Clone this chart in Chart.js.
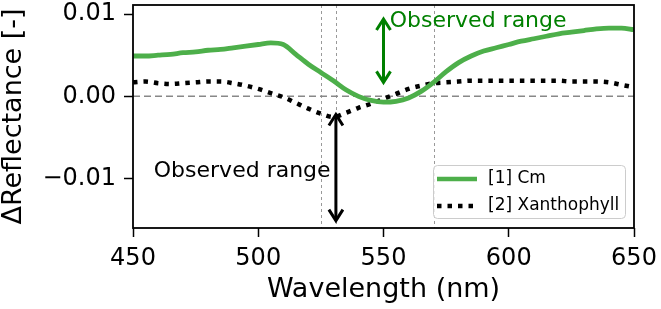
<!DOCTYPE html>
<html>
<head>
<meta charset="utf-8">
<script src="https://cdn.jsdelivr.net/npm/chart.js@4"></script>
<style>
  html, body { margin: 0; padding: 0; background: #fff; }
  canvas { display: block; }
</style>
</head>
<body>
<canvas id="myChart" width="661" height="309"></canvas>
<script>
var wavelengths = [450, 455, 460, 465, 470, 475, 480, 485, 490, 495, 500, 505, 510, 515, 520, 525, 530, 535, 540, 545,
                   550, 555, 560, 565, 570, 575, 580, 585, 590, 595, 600, 605, 610, 615, 620, 625, 630, 635, 640, 645, 650];

var cmValues = [0.0049, 0.0049, 0.0050, 0.0051, 0.0053, 0.0054, 0.0056, 0.0057, 0.0059, 0.0061, 0.0063, 0.0065, 0.0063,
                0.0051, 0.0039, 0.0029, 0.0019, 0.0008, 0.0000, -0.0005, -0.0007, -0.0006, -0.0002, 0.0006, 0.0017,
                0.0030, 0.0041, 0.0049, 0.0055, 0.0059, 0.0063, 0.0067, 0.0070, 0.0073, 0.0076, 0.0078, 0.0080,
                0.0082, 0.0083, 0.0083, 0.0081];

var xanthValues = [0.0017, 0.0018, 0.0016, 0.0015, 0.0016, 0.0017, 0.0018, 0.0018, 0.0016, 0.0013, 0.0009, 0.0004,
                   -0.0001, -0.0008, -0.0015, -0.0021, -0.0025, -0.0020, -0.0014, -0.0009, -0.0003, 0.0003, 0.0009,
                   0.0013, 0.0016, 0.0017, 0.0018, 0.0019, 0.0019, 0.0019, 0.0019, 0.0019, 0.0019, 0.0019, 0.0019,
                   0.0018, 0.0018, 0.0018, 0.0017, 0.0014, 0.0011];

var seriesLabels = ['[1] Cm', '[2] Xanthophyll'];
var xTicks = [450, 500, 550, 600, 650];
var yTicks = [-0.01, 0, 0.01];
var markerLines = [525, 531, 570];

var fontFamily = "'DejaVu Sans', sans-serif";
var cmColor = '#4daf4a';

function toPoints(xs, ys) {
    return xs.map(function(x, i) { return { x: x, y: ys[i] }; });
}

function drawArrow(ctx, x, yTop, yBottom, color) {
    ctx.save();
    ctx.strokeStyle = color;
    ctx.lineWidth = 3;
    ctx.beginPath();
    ctx.moveTo(x, yTop + 1);
    ctx.lineTo(x, yBottom - 1);
    ctx.stroke();
    ctx.beginPath();
    ctx.moveTo(x - 7, yTop + 11);
    ctx.lineTo(x, yTop);
    ctx.lineTo(x + 7, yTop + 11);
    ctx.moveTo(x - 7, yBottom - 11);
    ctx.lineTo(x, yBottom);
    ctx.lineTo(x + 7, yBottom - 11);
    ctx.stroke();
    ctx.restore();
}

// lignes de repere, cadre, fleches, legende
var extrasPlugin = {
    id: 'extras',
    beforeDatasetsDraw: function(chart) {
        var ctx = chart.ctx, a = chart.chartArea;
        var xs = chart.scales.x, ys = chart.scales.y;
        ctx.save();
        ctx.strokeStyle = '#999';
        ctx.lineWidth = 1;
        ctx.setLineDash([3, 3]);
        markerLines.forEach(function(w) {
            var px = Math.round(xs.getPixelForValue(w)) + 0.5;
            ctx.beginPath();
            ctx.moveTo(px, a.top);
            ctx.lineTo(px, a.bottom);
            ctx.stroke();
        });
        ctx.strokeStyle = '#888';
        ctx.lineWidth = 1.5;
        ctx.setLineDash([7, 4]);
        var y0 = ys.getPixelForValue(0);
        ctx.beginPath();
        ctx.moveTo(a.left, y0);
        ctx.lineTo(a.right, y0);
        ctx.stroke();
        ctx.restore();
    },
    afterDatasetsDraw: function(chart) {
        var ctx = chart.ctx, a = chart.chartArea;
        var xs = chart.scales.x, ys = chart.scales.y;

        // cadre
        ctx.save();
        ctx.strokeStyle = '#000';
        ctx.lineWidth = 1.8;
        ctx.strokeRect(a.left, a.top, a.right - a.left, a.bottom - a.top);
        ctx.restore();

        // fleches + textes
        drawArrow(ctx, xs.getPixelForValue(550), ys.getPixelForValue(0.0094), ys.getPixelForValue(0.0017), '#008000');
        drawArrow(ctx, xs.getPixelForValue(531), ys.getPixelForValue(-0.0022), ys.getPixelForValue(-0.0151), '#000');

        ctx.save();
        ctx.font = '22px ' + fontFamily;
        ctx.textBaseline = 'middle';
        ctx.textAlign = 'left';
        ctx.fillStyle = '#008000';
        ctx.fillText('Observed range', xs.getPixelForValue(552.5), ys.getPixelForValue(0.0091));
        ctx.fillStyle = '#000';
        ctx.fillText('Observed range', xs.getPixelForValue(458.3), ys.getPixelForValue(-0.0091));
        ctx.restore();

        // legende
        var w = 192, h = 53;
        var bx = a.right - 9 - w, by = a.bottom - 10 - h;
        ctx.save();
        ctx.fillStyle = 'rgba(255,255,255,0.8)';
        ctx.strokeStyle = '#cccccc';
        ctx.lineWidth = 1;
        ctx.beginPath();
        ctx.roundRect(bx + 0.5, by + 0.5, w, h, 4);
        ctx.fill();
        ctx.stroke();

        ctx.lineWidth = 4.5;
        ctx.strokeStyle = cmColor;
        ctx.beginPath();
        ctx.moveTo(bx + 4, by + 14);
        ctx.lineTo(bx + 44, by + 14);
        ctx.stroke();
        ctx.strokeStyle = '#000';
        ctx.setLineDash([4.5, 6]);
        ctx.beginPath();
        ctx.moveTo(bx + 4, by + 41);
        ctx.lineTo(bx + 44, by + 41);
        ctx.stroke();
        ctx.setLineDash([]);

        ctx.font = '17px ' + fontFamily;
        ctx.fillStyle = '#000';
        ctx.textBaseline = 'middle';
        ctx.fillText(seriesLabels[0], bx + 55, by + 14);
        ctx.fillText(seriesLabels[1], bx + 55, by + 41);
        ctx.restore();
    }
};

var ctx = document.getElementById('myChart').getContext('2d');
var myChart = new Chart(ctx, {
    type: 'line',
    data: {
        datasets: [
            {
                label: seriesLabels[0],
                data: toPoints(wavelengths, cmValues),
                borderColor: cmColor,
                borderWidth: 4.8,
                pointRadius: 0,
                cubicInterpolationMode: 'monotone',
                fill: false
            },
            {
                label: seriesLabels[1],
                data: toPoints(wavelengths, xanthValues),
                borderColor: '#000',
                borderWidth: 4.5,
                borderDash: [4.5, 6],
                pointRadius: 0,
                cubicInterpolationMode: 'monotone',
                fill: false
            }
        ]
    },
    options: {
        responsive: false,
        animation: false,
        layout: { padding: { top: 5, right: 27, left: 0, bottom: 0 } },
        plugins: {
            legend: { display: false },
            tooltip: { enabled: false }
        },
        scales: {
            x: {
                type: 'linear',
                min: 450,
                max: 650,
                afterBuildTicks: function(s) { s.ticks = xTicks.map(function(v) { return { value: v }; }); },
                afterFit: function(s) { s.height = 81; s.paddingLeft = 0; s.paddingRight = 0; },
                grid: { drawOnChartArea: false, drawTicks: true, tickLength: 9, tickWidth: 1.5, tickColor: '#000' },
                border: { display: false },
                ticks: {
                    color: '#000',
                    font: { family: fontFamily, size: 24 },
                    padding: 7,
                    maxRotation: 0,
                    callback: function(v) { return String(v); }
                },
                title: {
                    display: true,
                    text: 'Wavelength (nm)',
                    color: '#000',
                    font: { family: fontFamily, size: 27, lineHeight: 1 },
                    padding: { top: 0, bottom: 6 }
                }
            },
            y: {
                min: -0.0160,
                max: 0.0111,
                afterBuildTicks: function(s) { s.ticks = yTicks.map(function(v) { return { value: v }; }); },
                afterFit: function(s) { s.width = 133; s.paddingTop = 0; s.paddingBottom = 0; },
                grid: { drawOnChartArea: false, drawTicks: true, tickLength: 9, tickWidth: 1.5, tickColor: '#000' },
                border: { display: false },
                ticks: {
                    color: '#000',
                    font: { family: fontFamily, size: 24 },
                    padding: 8,
                    callback: function(v) {
                        if (Math.abs(v) < 1e-9) return '0.00';
                        return (v < 0 ? '\u2212' : '') + Math.abs(v).toFixed(2);
                    }
                },
                title: {
                    display: true,
                    text: '\u0394Reflectance [-]',
                    color: '#000',
                    font: { family: fontFamily, size: 27, lineHeight: 1 },
                    padding: { top: 0, bottom: 0 }
                }
            }
        }
    },
    plugins: [extrasPlugin]
});
</script>
</body>
</html>
